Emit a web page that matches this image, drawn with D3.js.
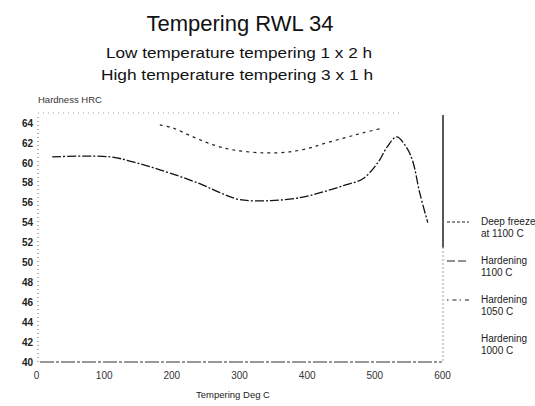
<!DOCTYPE html>
<html>
<head>
<meta charset="utf-8">
<script src="https://cdn.jsdelivr.net/npm/d3@7"></script>
<style>
  body { margin: 0; background: #fff; }
  svg { font-family: "Liberation Sans", Arial, sans-serif; }
</style>
</head>
<body>
<svg id="chart" width="535" height="406"></svg>
<script>
// values
const deepFreezeTemp = [183, 202, 232, 262, 291, 335, 375, 405, 424, 461, 483, 513];
const deepFreezeHrc  = [63.8, 63.5, 62.6, 61.8, 61.3, 61.0, 61.1, 61.5, 61.9, 62.6, 63.0, 63.5];

const hard1100Temp = [24, 109, 143, 183, 242, 272, 301, 346, 390, 420, 454, 483, 505, 519, 533, 548, 557, 567, 579];
const hard1100Hrc  = [60.6, 60.6, 60.1, 59.3, 57.9, 57.0, 56.3, 56.2, 56.5, 57.0, 57.7, 58.4, 60.0, 61.6, 62.6, 61.5, 60.1, 57.0, 54.0];

const xTicks = [0, 100, 200, 300, 400, 500, 600];
const yTicks = [40, 42, 44, 46, 48, 50, 52, 54, 56, 58, 60, 62, 64];

const legendItems = [
  { lines: ["Deep freeze", "at 1100 C"], dash: "3,2" },
  { lines: ["Hardening", "1100 C"], dash: "8,3" },
  { lines: ["Hardening", "1050 C"], dash: "1.5,4,4,3" },
  { lines: ["Hardening", "1000 C"], dash: null }
];

const width = 535, height = 406;
const margins = { top: 113, bottom: 44, left: 36, right: 93 };

const svg = d3.select("#chart");

const x = d3.scaleLinear().domain([0, 600]).range([margins.left, width - margins.right]);
const y = d3.scaleLinear().domain([40, 65]).range([height - margins.bottom, margins.top]);

// titles
svg.append("text").attr("x", 240).attr("y", 31).attr("text-anchor", "middle")
  .attr("font-size", 22).attr("fill", "#111").text("Tempering RWL 34");
svg.append("text").attr("x", 239).attr("y", 58).attr("text-anchor", "middle")
  .attr("font-size", 15.5).attr("fill", "#111")
  .attr("textLength", 266).attr("lengthAdjust", "spacingAndGlyphs")
  .text("Low temperature tempering 1 x 2 h");
svg.append("text").attr("x", 237).attr("y", 80).attr("text-anchor", "middle")
  .attr("font-size", 15.5).attr("fill", "#111")
  .attr("textLength", 272).attr("lengthAdjust", "spacingAndGlyphs")
  .text("High temperature tempering 3 x 1 h");

svg.append("text").attr("x", 38).attr("y", 103)
  .attr("font-size", 9.5).attr("fill", "#333")
  .text("Hardness HRC");

// frame
const x0 = x(0), x1 = x(600), yb = y(40), yt = y(65);
svg.append("line").attr("x1", x0 + 2).attr("x2", x0 + 2).attr("y1", yt + 4).attr("y2", yb)
  .attr("stroke", "#666").attr("stroke-dasharray", "1,3");
svg.append("line").attr("x1", x0 + 2).attr("x2", x1 - 40).attr("y1", yt).attr("y2", yt)
  .attr("stroke", "#999").attr("stroke-dasharray", "1,4");
svg.append("line").attr("x1", x0 + 4).attr("x2", x1).attr("y1", yb).attr("y2", yb)
  .attr("stroke", "#333").attr("stroke-width", 1.2).attr("stroke-dasharray", "14,2,3,2");
svg.append("line").attr("x1", x1 + 1).attr("x2", x1 + 1).attr("y1", yt + 2).attr("y2", y(51.5))
  .attr("stroke", "#222").attr("stroke-width", 1.5);
svg.append("line").attr("x1", x1 + 1).attr("x2", x1 + 1).attr("y1", y(51.5)).attr("y2", yb)
  .attr("stroke", "#444").attr("stroke-dasharray", "1,3");

// axes
const xAxis = d3.axisBottom(x).tickValues(xTicks).tickSize(0).tickPadding(10);
const gx = svg.append("g").attr("transform", `translate(0,${yb})`).call(xAxis);
gx.select(".domain").remove();
gx.selectAll("text").attr("font-size", 10).attr("fill", "#333")
  .attr("font-family", "'Liberation Sans', Arial, sans-serif");

const yAxis = d3.axisLeft(y).tickValues(yTicks).tickSize(0).tickPadding(5);
const gy = svg.append("g").attr("transform", `translate(${x0 + 2},0)`).call(yAxis);
gy.select(".domain").remove();
gy.selectAll("text").attr("font-size", 10).attr("font-weight", "bold").attr("fill", "#222")
  .attr("font-family", "'Liberation Sans', Arial, sans-serif");

svg.append("text").attr("x", 233).attr("y", 398).attr("text-anchor", "middle")
  .attr("font-size", 9.5).attr("fill", "#222").text("Tempering Deg C");

// curves
const line = d3.line()
  .curve(d3.curveCatmullRom)
  .x(d => x(d[0]))
  .y(d => y(d[1]));

svg.append("path")
  .datum(d3.zip(deepFreezeTemp, deepFreezeHrc))
  .attr("fill", "none").attr("stroke", "#222").attr("stroke-width", 1.2)
  .attr("stroke-dasharray", "3,4")
  .attr("d", line);

svg.append("path")
  .datum(d3.zip(hard1100Temp, hard1100Hrc))
  .attr("fill", "none").attr("stroke", "#111").attr("stroke-width", 1.3)
  .attr("stroke-dasharray", "9,2,2,2")
  .attr("d", line);

// legend
const lg = svg.append("g");
legendItems.forEach((d, i) => {
  const ly = 222 + i * 39;
  if (d.dash) {
    lg.append("line").attr("x1", 447).attr("x2", 469).attr("y1", ly).attr("y2", ly)
      .attr("stroke", "#222").attr("stroke-width", 1.2).attr("stroke-dasharray", d.dash);
  }
  d.lines.forEach((t, j) => {
    lg.append("text").attr("x", 481).attr("y", ly + 3 + j * 11.5)
      .attr("font-size", 10).attr("fill", "#222").text(t);
  });
});
</script>
</body>
</html>
